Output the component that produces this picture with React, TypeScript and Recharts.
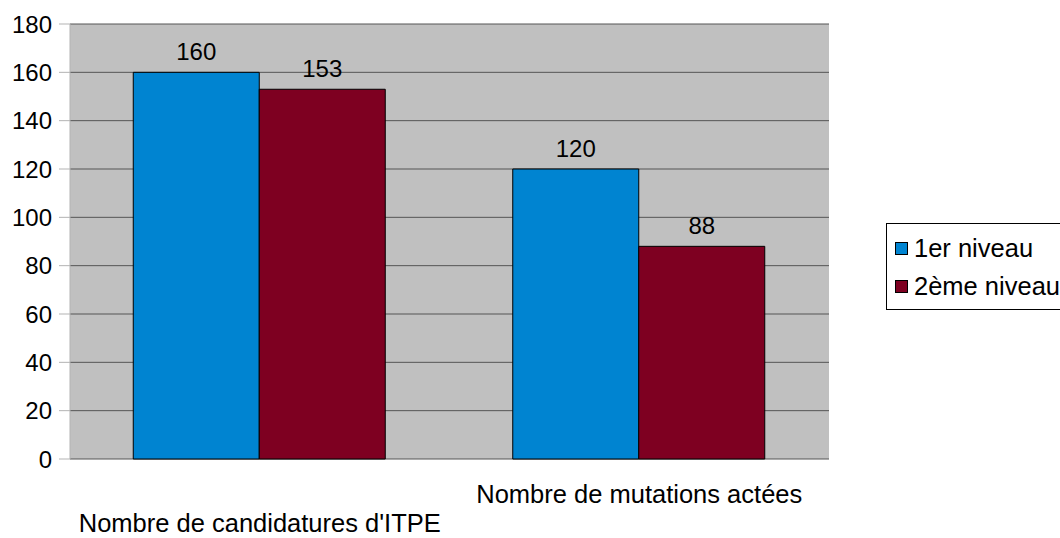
import React from 'react';
import { BarChart, Bar, XAxis, YAxis, CartesianGrid, Legend, LabelList } from 'recharts';

const categories = ["Nombre de candidatures d'ITPE", 'Nombre de mutations actées'];
const niveau1 = [160, 120];
const niveau2 = [153, 88];
const yTicks = [0, 20, 40, 60, 80, 100, 120, 140, 160, 180];
const boundaryTicks = [0, 1, 2];

const data = categories.map((name, i) => ({ name, n1: niveau1[i], n2: niveau2[i] }));

const FONT = '"Liberation Sans", Arial, sans-serif';
const BLUE = '#0084d1';
const RED = '#7e0021';
const AXIS = '#b3b3b3';

// labels alternate between two rows, first one lower
const CatTick = (props: any) => {
  const { x, y, payload, index } = props;
  const dy = index % 2 === 0 ? 73 : 44;
  return (
    <text x={x} y={y + dy} textAnchor="middle" fontSize={25.5} fontFamily={FONT} fill="#000">
      {payload.value}
    </text>
  );
};

const LegendBox = () => (
  <div
    style={{
      border: '1px solid #000',
      background: '#fff',
      width: 200,
      height: 87,
      boxSizing: 'border-box',
      padding: '5px 0 0 8px',
      fontFamily: FONT,
      fontSize: 25.5,
      color: '#000',
      textAlign: 'left',
    }}
  >
    {[
      { label: '1er niveau', color: BLUE },
      { label: '2ème niveau', color: RED },
    ].map((it) => (
      <div key={it.label} style={{ display: 'flex', alignItems: 'center', height: 38, whiteSpace: 'nowrap' }}>
        <span
          style={{
            display: 'inline-block',
            width: 11,
            height: 11,
            background: it.color,
            border: '1px solid #000',
            marginRight: 6,
          }}
        />
        {it.label}
      </div>
    ))}
  </div>
);

export default function App() {
  return (
    <div style={{ position: 'absolute', left: 0, top: 0, width: 1060, height: 538, overflow: 'hidden', background: '#fff' }}>
      <BarChart
        width={1060}
        height={538}
        data={data}
        margin={{ top: 24, right: 231, bottom: 0, left: 0 }}
        barCategoryGap="16.67%"
        barGap={0}
      >
        <CartesianGrid xAxisId="cat" vertical={false} stroke="#555" fill="#c0c0c0" fillOpacity={1} />
        <XAxis
          xAxisId="b"
          type="number"
          domain={[0, categories.length]}
          ticks={boundaryTicks}
          height={0}
          tick={false}
          tickSize={11}
          axisLine={{ stroke: AXIS }}
          tickLine={{ stroke: AXIS }}
        />
        <XAxis
          xAxisId="cat"
          dataKey="name"
          height={79}
          tickSize={0}
          tickMargin={0}
          axisLine={false}
          tickLine={false}
          interval={0}
          tick={<CatTick />}
        />
        <YAxis
          domain={[0, 180]}
          ticks={yTicks}
          width={70}
          tickSize={11}
          tickMargin={7}
          axisLine={{ stroke: AXIS }}
          tickLine={{ stroke: AXIS }}
          tick={{ fontSize: 24, fontFamily: FONT, fill: '#000' }}
          interval={0}
        />
        <YAxis yAxisId="r" orientation="right" width={0} tick={false} tickLine={false} axisLine={{ stroke: AXIS }} />
        <Legend
          layout="vertical"
          align="center"
          verticalAlign="middle"
          content={<LegendBox />}
          wrapperStyle={{ left: 886, top: 223, width: 200 }}
        />
        <Bar xAxisId="cat" dataKey="n1" name="1er niveau" fill={BLUE} stroke="#000" strokeWidth={1} isAnimationActive={false}>
          <LabelList dataKey="n1" position="top" offset={12} fontSize={24} fontFamily={FONT} fill="#000" />
        </Bar>
        <Bar xAxisId="cat" dataKey="n2" name="2ème niveau" fill={RED} stroke="#000" strokeWidth={1} isAnimationActive={false}>
          <LabelList dataKey="n2" position="top" offset={12} fontSize={24} fontFamily={FONT} fill="#000" />
        </Bar>
      </BarChart>
    </div>
  );
}
